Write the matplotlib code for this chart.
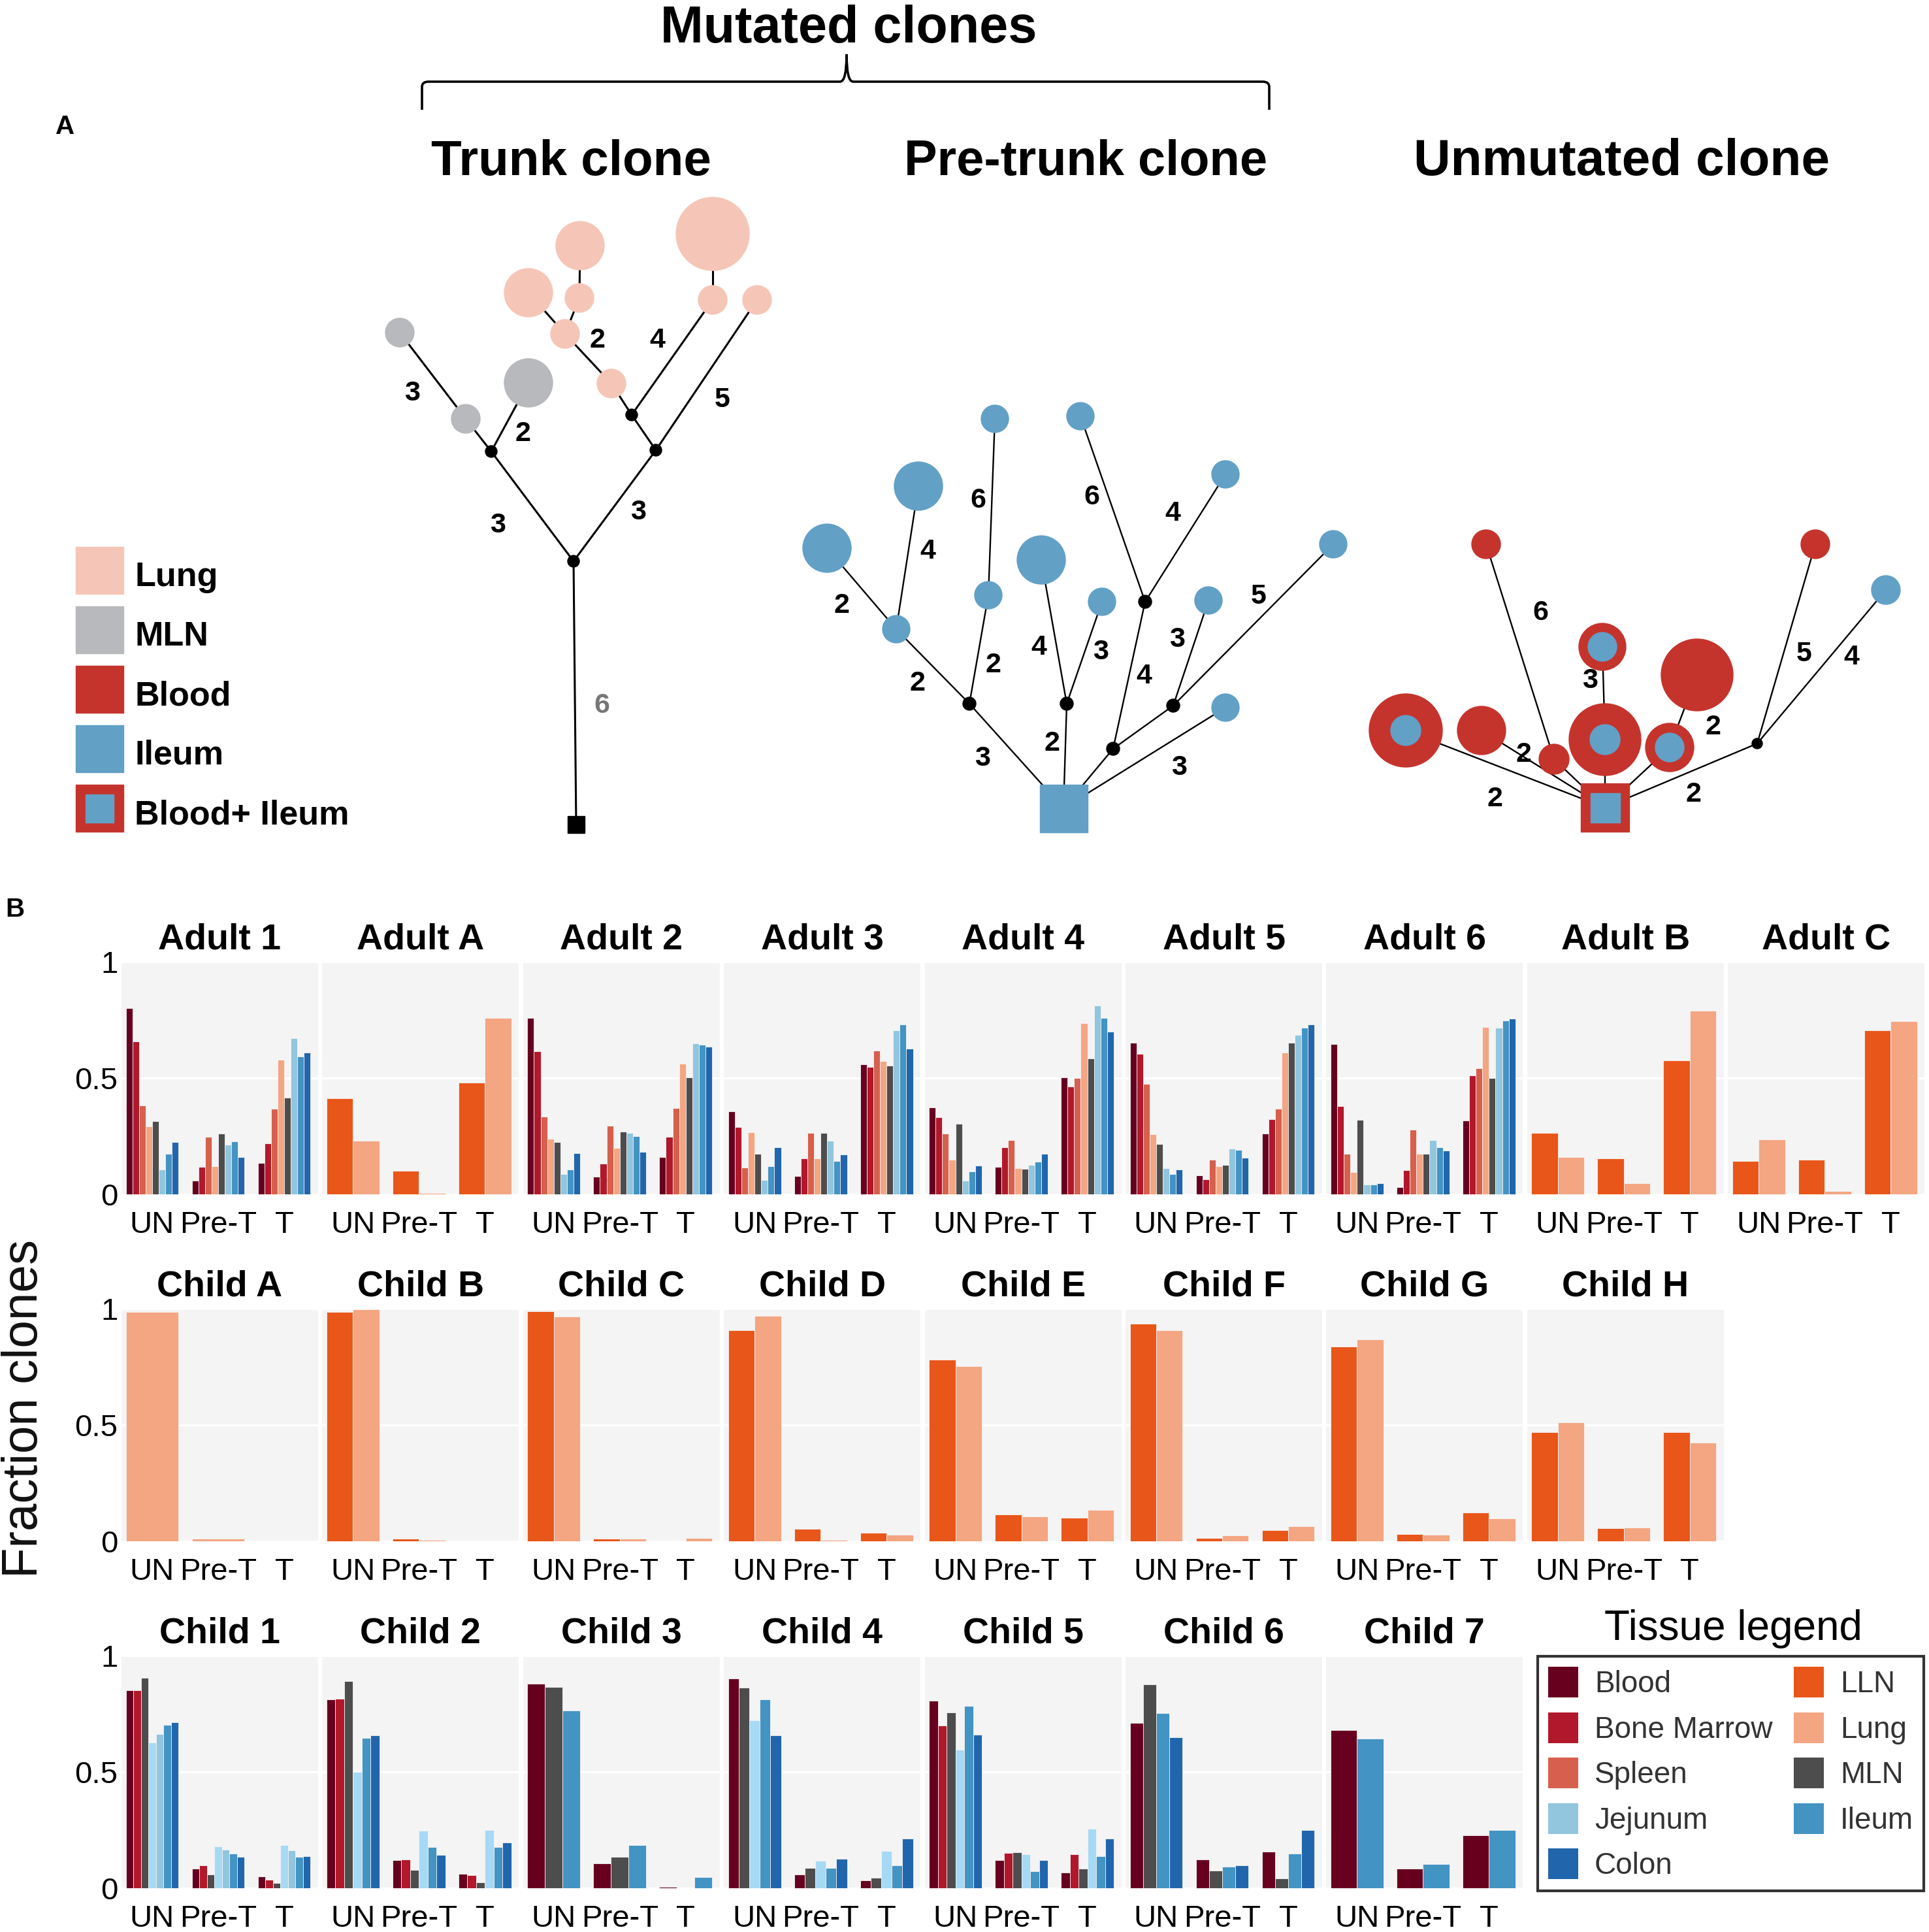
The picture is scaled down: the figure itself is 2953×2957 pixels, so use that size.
import numpy as np
import matplotlib.pyplot as plt
from matplotlib.patches import Circle, Rectangle, Patch, PathPatch
from matplotlib.path import Path

plt.rcParams['font.family'] = ['Liberation Sans', 'DejaVu Sans']

W, H = 2953, 2957  # figure size in pixels

# ---------------- panel B data ----------------
groups = ["UN", "Pre-T", "T"]
tissue_order = ["Blood", "Bone Marrow", "Spleen", "LLN", "Lung", "MLN",
                "Unlabelled", "Jejunum", "Ileum", "Colon"]
tissue_colors = {"Blood": "#67001f", "Bone Marrow": "#b2182b", "Spleen": "#d6604d",
                 "LLN": "#e8561a", "Lung": "#f4a582", "MLN": "#4d4d4d",
                 "Unlabelled": "#a6d9f4", "Jejunum": "#92c5de", "Ileum": "#4393c3",
                 "Colon": "#2166ac"}

# fraction of clones per tissue, values for UN, Pre-T, T
adult_1 = {"Blood": [0.80, 0.058, 0.136], "Bone Marrow": [0.657, 0.117, 0.218],
           "Spleen": [0.381, 0.247, 0.367], "Lung": [0.292, 0.122, 0.578],
           "MLN": [0.316, 0.261, 0.417], "Jejunum": [0.107, 0.213, 0.670],
           "Ileum": [0.175, 0.228, 0.592], "Colon": [0.225, 0.160, 0.610]}
adult_a = {"LLN": [0.412, 0.101, 0.479], "Lung": [0.230, 0.007, 0.759]}
adult_2 = {"Blood": [0.758, 0.077, 0.160], "Bone Marrow": [0.616, 0.131, 0.247],
           "Spleen": [0.333, 0.295, 0.371], "Lung": [0.240, 0.199, 0.561],
           "MLN": [0.226, 0.269, 0.504], "Jejunum": [0.086, 0.264, 0.649],
           "Ileum": [0.106, 0.249, 0.642], "Colon": [0.178, 0.182, 0.635]}
adult_3 = {"Blood": [0.357, 0.079, 0.560], "Bone Marrow": [0.290, 0.155, 0.549],
           "Spleen": [0.115, 0.264, 0.619], "Lung": [0.268, 0.155, 0.572],
           "MLN": [0.175, 0.264, 0.554], "Jejunum": [0.062, 0.230, 0.704],
           "Ileum": [0.122, 0.143, 0.731], "Colon": [0.203, 0.170, 0.626]}
adult_4 = {"Blood": [0.374, 0.117, 0.504], "Bone Marrow": [0.331, 0.201, 0.464],
           "Spleen": [0.261, 0.232, 0.501], "Lung": [0.148, 0.112, 0.736],
           "MLN": [0.302, 0.109, 0.583], "Jejunum": [0.060, 0.127, 0.811],
           "Ileum": [0.098, 0.141, 0.758], "Colon": [0.125, 0.173, 0.700]}
adult_5 = {"Blood": [0.653, 0.082, 0.261], "Bone Marrow": [0.605, 0.066, 0.323],
           "Spleen": [0.475, 0.149, 0.367], "Lung": [0.259, 0.122, 0.609],
           "MLN": [0.215, 0.127, 0.653], "Jejunum": [0.112, 0.196, 0.686],
           "Ileum": [0.088, 0.191, 0.717], "Colon": [0.107, 0.157, 0.729]}
adult_6 = {"Blood": [0.647, 0.031, 0.317], "Bone Marrow": [0.379, 0.103, 0.511],
           "Spleen": [0.175, 0.278, 0.541], "Lung": [0.095, 0.175, 0.720],
           "MLN": [0.319, 0.175, 0.501], "Jejunum": [0.042, 0.234, 0.717],
           "Ileum": [0.043, 0.202, 0.746], "Colon": [0.048, 0.189, 0.755]}
adult_b = {"LLN": [0.264, 0.154, 0.576], "Lung": [0.160, 0.047, 0.788]}
adult_c = {"LLN": [0.144, 0.148, 0.705], "Lung": [0.235, 0.013, 0.744]}

child_a = {"Lung": [0.986, 0.012, 0.0]}
child_b = {"LLN": [0.986, 0.011, 0.0], "Lung": [0.996, 0.006, 0.0]}
child_c = {"LLN": [0.989, 0.010, 0.0], "Lung": [0.966, 0.012, 0.015]}
child_d = {"LLN": [0.908, 0.053, 0.036], "Lung": [0.968, 0.005, 0.027]}
child_e = {"LLN": [0.780, 0.114, 0.102], "Lung": [0.754, 0.108, 0.135]}
child_f = {"LLN": [0.934, 0.013, 0.048], "Lung": [0.907, 0.026, 0.064]}
child_g = {"LLN": [0.838, 0.031, 0.125], "Lung": [0.868, 0.029, 0.098]}
child_h = {"LLN": [0.470, 0.055, 0.470], "Lung": [0.512, 0.058, 0.423]}

child_1 = {"Blood": [0.852, 0.085, 0.050], "Bone Marrow": [0.852, 0.099, 0.036],
           "MLN": [0.905, 0.058, 0.022], "Unlabelled": [0.627, 0.179, 0.185],
           "Jejunum": [0.662, 0.166, 0.162], "Ileum": [0.702, 0.150, 0.135],
           "Colon": [0.714, 0.136, 0.138]}
child_2 = {"Blood": [0.813, 0.122, 0.063], "Bone Marrow": [0.816, 0.123, 0.056],
           "MLN": [0.891, 0.079, 0.026], "Unlabelled": [0.499, 0.247, 0.251],
           "Ileum": [0.647, 0.176, 0.176], "Colon": [0.656, 0.144, 0.196]}
child_3 = {"Blood": [0.879, 0.108, 0.007], "MLN": [0.864, 0.135, 0.0],
           "Ileum": [0.763, 0.186, 0.048]}
child_4 = {"Blood": [0.901, 0.058, 0.035], "MLN": [0.863, 0.086, 0.046],
           "Unlabelled": [0.722, 0.119, 0.159], "Ileum": [0.812, 0.086, 0.098],
           "Colon": [0.657, 0.126, 0.213]}
child_5 = {"Blood": [0.807, 0.122, 0.068], "Bone Marrow": [0.699, 0.151, 0.147],
           "MLN": [0.756, 0.154, 0.084], "Unlabelled": [0.596, 0.145, 0.255],
           "Ileum": [0.784, 0.072, 0.137], "Colon": [0.661, 0.122, 0.213]}
child_6 = {"Blood": [0.711, 0.125, 0.158], "MLN": [0.877, 0.077, 0.042],
           "Ileum": [0.754, 0.093, 0.149], "Colon": [0.649, 0.098, 0.249]}
child_7 = {"Blood": [0.680, 0.084, 0.227], "Ileum": [0.642, 0.103, 0.251]}

row1 = [("Adult 1", adult_1), ("Adult A", adult_a), ("Adult 2", adult_2),
        ("Adult 3", adult_3), ("Adult 4", adult_4), ("Adult 5", adult_5),
        ("Adult 6", adult_6), ("Adult B", adult_b), ("Adult C", adult_c)]
row2 = [("Child A", child_a), ("Child B", child_b), ("Child C", child_c),
        ("Child D", child_d), ("Child E", child_e), ("Child F", child_f),
        ("Child G", child_g), ("Child H", child_h)]
row3 = [("Child 1", child_1), ("Child 2", child_2), ("Child 3", child_3),
        ("Child 4", child_4), ("Child 5", child_5), ("Child 6", child_6),
        ("Child 7", child_7)]

legend_tissues = ["Blood", "Bone Marrow", "Spleen", "Jejunum", "Colon",
                  "LLN", "Lung", "MLN", "Ileum"]

# ---------------- panel A trees (schematic) ----------------
c_lung, c_mln, c_blood, c_ileum = "#f5c6b8", "#b7b9bc", "#c4342d", "#62a0c6"
tree_colors = {"lung": c_lung, "mln": c_mln, "blood": c_blood, "ileum": c_ileum}

# node: (x, y, kind, size)
trunk_nodes = {
    "root": (882, 1262, "sq_black", 26), "j0": (878, 859, "dot", 9),
    "jl": (752, 691, "dot", 9), "jr": (1004, 689, "dot", 9), "jr2": (967, 635, "dot", 9),
    "m1": (713, 641, "mln", 22), "m2": (612, 509, "mln", 22), "m3": (809, 586, "mln", 37),
    "l1": (936, 587, "lung", 22), "l2": (865, 511, "lung", 22), "l3": (809, 448, "lung", 37),
    "l4": (887, 456, "lung", 22), "l5": (888, 376, "lung", 37), "l6": (1091, 459, "lung", 22),
    "l7": (1091, 358, "lung", 56), "l8": (1159, 459, "lung", 22)}
trunk_edges = [("root", "j0"), ("j0", "jl"), ("j0", "jr"), ("jl", "m1"), ("m1", "m2"),
               ("jl", "m3"), ("jr", "jr2"), ("jr2", "l1"), ("l1", "l2"), ("l2", "l3"),
               ("l2", "l4"), ("l4", "l5"), ("jr2", "l6"), ("l6", "l7"), ("jr", "l8")]
trunk_labels = [("3", 631, 602), ("2", 801, 664), ("2", 915, 521), ("4", 1006, 521),
                ("5", 1106, 612), ("3", 762, 804), ("3", 977, 784)]
trunk_gray_label = ("6", 921, 1080)

pre_nodes = {
    "root": (1628, 1237, "sq_ileum", 73), "j1": (1484, 1077, "dot", 10),
    "a": (1372, 963, "ileum", 21), "b": (1266, 839, "ileum", 37), "c": (1406, 744, "ileum", 37),
    "d": (1513, 911, "ileum", 21), "e": (1523, 641, "ileum", 21), "j2": (1633, 1077, "dot", 10),
    "f": (1594, 857, "ileum", 37), "g": (1687, 921, "ileum", 21), "j3": (1704, 1146, "dot", 10),
    "j4": (1753, 921, "dot", 10), "h": (1654, 637, "ileum", 21), "i": (1876, 726, "ileum", 21),
    "j5": (1796, 1080, "dot", 10), "k": (1850, 919, "ileum", 21), "l": (2041, 833, "ileum", 21),
    "m": (1876, 1083, "ileum", 21)}
pre_edges = [("root", "j1"), ("j1", "a"), ("a", "b"), ("a", "c"), ("j1", "d"), ("d", "e"),
             ("root", "j2"), ("j2", "f"), ("j2", "g"), ("root", "j3"), ("j3", "j4"),
             ("j4", "h"), ("j4", "i"), ("j3", "j5"), ("j5", "k"), ("j5", "l"), ("root", "m")]
pre_labels = [("3", 1504, 1161), ("2", 1404, 1046), ("2", 1289, 927), ("4", 1420, 844),
              ("2", 1520, 1018), ("6", 1497, 766), ("2", 1611, 1138), ("4", 1590, 991),
              ("3", 1685, 998), ("4", 1751, 1035), ("6", 1671, 761), ("4", 1795, 786),
              ("3", 1802, 979), ("5", 1927, 913), ("3", 1805, 1175)]

un_nodes = {
    "root": (2457, 1236, "sq_both", (74, 45)), "n1": (2275, 833, "blood", 22),
    "n2": (2779, 833, "blood", 22), "n3": (2887, 903, "ileum", 22),
    "n4": (2453, 990, "ring", (36, 22)), "n5": (2598, 1033, "blood", 55),
    "n6": (2152, 1118, "ring", (56, 23)), "n7": (2268, 1118, "blood", 37),
    "n8": (2379, 1162, "blood", 23), "n9": (2457, 1132, "ring", (55, 23)),
    "n10": (2556, 1144, "ring", (37, 22)), "j": (2690, 1138, "dot", 8)}
un_edges = [("root", "n6"), ("root", "n7"), ("root", "n8"), ("n8", "n1"), ("root", "n9"),
            ("n9", "n4"), ("root", "n10"), ("n10", "n5"), ("root", "j"), ("j", "n2"),
            ("j", "n3")]
un_labels = [("2", 2289, 1223), ("2", 2333, 1155), ("6", 2358, 938), ("3", 2434, 1042),
             ("2", 2623, 1113), ("2", 2592, 1216), ("5", 2762, 1001), ("4", 2834, 1006)]

legend_a = [("Lung", "lung"), ("MLN", "mln"), ("Blood", "blood"), ("Ileum", "ileum"),
            ("Blood+ Ileum", "both")]


def draw_tree(ax, nodes, edges, labels, lw):
    for a, b in edges:
        ax.plot([nodes[a][0], nodes[b][0]], [nodes[a][1], nodes[b][1]],
                color="black", lw=lw, zorder=2, solid_capstyle="butt")
    for x, y, kind, size in nodes.values():
        if kind == "dot":
            ax.add_patch(Circle((x, y), size, color="black", zorder=4))
        elif kind == "ring":
            ax.add_patch(Circle((x, y), size[0], color=c_blood, zorder=3))
            ax.add_patch(Circle((x, y), size[1], color=c_ileum, zorder=3))
        elif kind == "sq_black":
            ax.add_patch(Rectangle((x - size / 2, y - size / 2), size, size, color="black", zorder=4))
        elif kind == "sq_ileum":
            ax.add_patch(Rectangle((x - size / 2, y - size / 2), size, size, color=c_ileum, zorder=4))
        elif kind == "sq_both":
            o, i = size
            ax.add_patch(Rectangle((x - o / 2, y - o / 2), o, o, color=c_blood, zorder=4))
            ax.add_patch(Rectangle((x - i / 2, y - i / 2), i, i, color=c_ileum, zorder=4))
        else:
            ax.add_patch(Circle((x, y), size, color=tree_colors[kind], zorder=3))
    for t, x, y in labels:
        ax.text(x, y, t, fontsize=31, fontweight="bold", ha="center", va="center", zorder=5)


fig = plt.figure(figsize=(W / 100, H / 100), dpi=100)

# overlay in pixel coordinates for panel A
ax0 = fig.add_axes([0, 0, 1, 1])
ax0.set_xlim(0, W)
ax0.set_ylim(H, 0)
ax0.axis("off")

draw_tree(ax0, trunk_nodes, trunk_edges, trunk_labels, 2.2)
ax0.text(trunk_gray_label[1], trunk_gray_label[2], trunk_gray_label[0], fontsize=31,
         fontweight="bold", color="#777777", ha="center", va="center")
draw_tree(ax0, pre_nodes, pre_edges, pre_labels, 1.7)
draw_tree(ax0, un_nodes, un_edges, un_labels, 1.7)

# titles and brace
ax0.text(1299, 65, "Mutated clones", fontsize=57, fontweight="bold", ha="center", va="baseline")
ax0.text(874, 268, "Trunk clone", fontsize=55, fontweight="bold", ha="center", va="baseline")
ax0.text(1662, 268, "Pre-trunk clone", fontsize=54.5, fontweight="bold", ha="center", va="baseline")
ax0.text(2482, 268, "Unmutated clone", fontsize=56.5, fontweight="bold", ha="center", va="baseline")
brace = Path([(646, 168), (646, 133), (646, 125), (656, 125), (1286, 125), (1296, 125),
              (1296, 83), (1296, 125), (1306, 125), (1933, 125), (1943, 125),
              (1943, 133), (1943, 168)],
             [Path.MOVETO, Path.LINETO, Path.CURVE3, Path.CURVE3, Path.LINETO, Path.CURVE3,
              Path.CURVE3, Path.CURVE3, Path.CURVE3, Path.LINETO, Path.CURVE3, Path.CURVE3,
              Path.LINETO])
ax0.add_patch(PathPatch(brace, facecolor="none", edgecolor="black", lw=2.6))

ax0.text(100, 194, "A", fontsize=29, fontweight="bold", ha="center", va="center")
ax0.text(23, 1392, "B", fontsize=29, fontweight="bold", ha="center", va="center")

# legend of panel A
for k, (lab, kind) in enumerate(legend_a):
    yc = 873 + k * 91
    if kind == "both":
        ax0.add_patch(Rectangle((116, yc - 36), 73, 72, color=c_blood))
        ax0.add_patch(Rectangle((131, yc - 21), 43, 43, color=c_ileum))
    else:
        ax0.add_patch(Rectangle((116, yc - 36), 73, 72, color=tree_colors[kind]))
    ax0.text(206, yc + 24, lab, fontsize=37.5, fontweight="bold", ha="left", va="baseline")

ax0.text(38, 2156, "Fraction clones", fontsize=55, rotation=90, ha="center", va="center",
         color="#111111")

# ---------------- panel B bars ----------------
row_tops = [1472, 2003, 2534]
panel_h = 356
panel_w = 301
col_step = 307.4


def draw_panel(ax, name, data, first_col):
    present = [t for t in tissue_order if t in data]
    n = len(present)
    w = 0.8 / n
    x = np.arange(len(groups))
    for k, t in enumerate(present):
        ax.bar(x - 0.4 + (k + 0.5) * w, data[t], width=w, color=tissue_colors[t],
               edgecolor="#f4f4f4", linewidth=0.6, zorder=2)
    ax.set_xlim(-0.465, 2.515)
    ax.set_ylim(0, 1)
    ax.set_facecolor("#f4f4f4")
    ax.set_yticks([0, 0.5, 1])
    ax.grid(axis="y", color="white", lw=2.2, zorder=0)
    ax.set_axisbelow(True)
    for s in ax.spines.values():
        s.set_visible(False)
    ax.set_xticks(x, groups)
    ax.tick_params(length=0, labelsize=34)
    ax.tick_params(axis="x", pad=18)
    ax.tick_params(axis="y", pad=4)
    if first_col:
        ax.set_yticklabels(["0", "0.5", "1"])
    else:
        ax.tick_params(axis="y", labelleft=False)
    ax.set_title(name, fontsize=40, fontweight="bold", pad=14)


for r, row in enumerate([row1, row2, row3]):
    for i, (name, data) in enumerate(row):
        left = 186 + i * col_step
        ax = fig.add_axes([left / W, 1 - (row_tops[r] + panel_h) / H, panel_w / W, panel_h / H])
        draw_panel(ax, name, data, i == 0)

# tissue legend
handles = [Patch(facecolor=tissue_colors[t]) for t in legend_tissues]
fig.text(2653 / W, 1 - 2493 / H, "Tissue legend", fontsize=46, ha="center", va="center")
leg = fig.legend(handles, legend_tissues, ncol=2, loc="upper left",
                 bbox_to_anchor=(2354 / W, 1 - 2893 / H, 591 / W, (2893 - 2535) / H),
                 mode="expand", fontsize=33, frameon=True, fancybox=False,
                 handlelength=1.0, handleheight=1.2, handletextpad=0.55,
                 columnspacing=0.3, borderpad=0.35, borderaxespad=0, labelspacing=0.45,
                 labelcolor="#333333")
leg.get_frame().set_edgecolor("black")
leg.get_frame().set_linewidth(3)

fig.savefig("out.png", dpi=100)
